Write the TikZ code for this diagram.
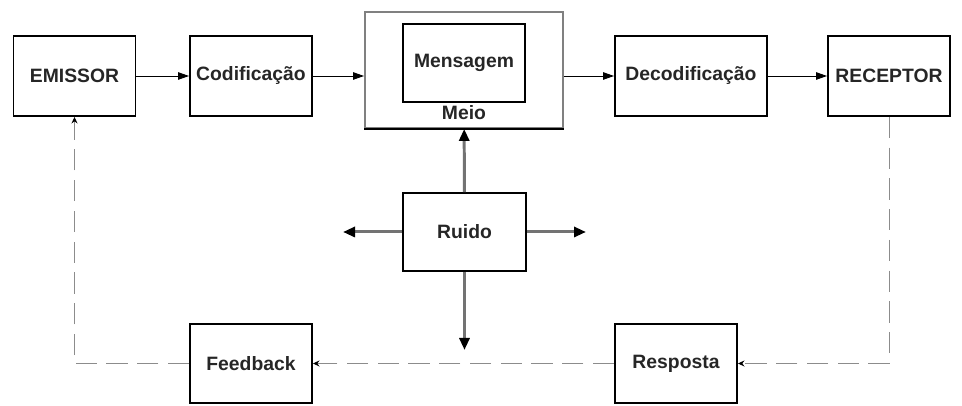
\documentclass[tikz,border=0pt]{standalone}
\usepackage{fontspec}
\setmainfont{Liberation Sans}
\usetikzlibrary{positioning,calc,arrows,arrows.meta}
\tikzset{font=\fontsize{11}{13}\selectfont\bfseries}

\begin{document}
\begin{tikzpicture}
	\useasboundingbox (0,0) rectangle (19.24,8.12);
	\tikzstyle{every node}=[align=center, inner sep=1pt, text=black!85]
	\tikzstyle{bloco}=[draw, line width=1.1pt, minimum width=2.44cm, minimum height=1.6cm]
	\tikzstyle{seta}=[-{Triangle[length=2.2mm, width=1.5mm]}, line width=0.5pt]
	\tikzstyle{ruidoseta}=[-{Triangle[length=2.4mm, width=2mm, black]}, draw=black!55, line width=1.7pt]
	\tikzstyle{retorno}=[-{Stealth[length=1.3mm, width=1.2mm, black]}, draw=black!45, line width=0.5pt, dash pattern=on 12pt off 5.5pt]

	\node [bloco] (emissor) at (1.49, 6.6) {EMISSOR};
	\node [bloco] (cod) at (5.02, 6.6) {Codificação};
	\node [bloco, draw=black!50, minimum width=3.96cm, minimum height=2.32cm] (meio) at (9.28, 6.72) {};
	\node [bloco, minimum height=1.56cm] (msg) at (9.28, 6.86) {Mensagem};
	\node (meiotxt) at (9.28, 5.86) {Meio};
	\node [bloco, minimum width=3.04cm] (decod) at (13.82, 6.6) {Decodificação};
	\node [bloco] (receptor) at (17.78, 6.6) {RECEPTOR};

	\node [bloco, minimum width=2.46cm, minimum height=1.56cm] (ruido) at (9.29, 3.48) {Ruido};
	\node [bloco, minimum height=1.58cm] (feedback) at (5.02, 0.85) {Feedback};
	\node [bloco, minimum height=1.58cm] (resposta) at (13.52, 0.85) {Resposta};

	\coordinate (rleft) at (6.86, 3.48);
	\coordinate (rright) at (11.72, 3.48);
	\coordinate (rdown) at (9.29, 1.12);
	\coordinate (meioin) at (cod -| meio.west);
	\coordinate (meioout) at (decod -| meio.east);
	\coordinate (cantodir) at (receptor.south |- resposta.east);
	\coordinate (cantoesq) at (emissor.south |- feedback.west);

	\draw [line width=1.1pt] (meio.south west) to (meio.south east);

	\draw [seta] (emissor) to (cod);
	\draw [seta] (cod) to (meioin);
	\draw [seta] (meioout) to (decod);
	\draw [seta] (decod) to (receptor);

	\draw [ruidoseta] (ruido) to (meio);
	\draw [ruidoseta] (ruido) to (rleft);
	\draw [ruidoseta] (ruido) to (rright);
	\draw [ruidoseta] (ruido) to (rdown);

	\draw [retorno] (receptor) to (cantodir) to (resposta);
	\draw [retorno] (resposta) to (feedback);
	\draw [retorno] (feedback) to (cantoesq) to (emissor);
\end{tikzpicture}
\end{document}
